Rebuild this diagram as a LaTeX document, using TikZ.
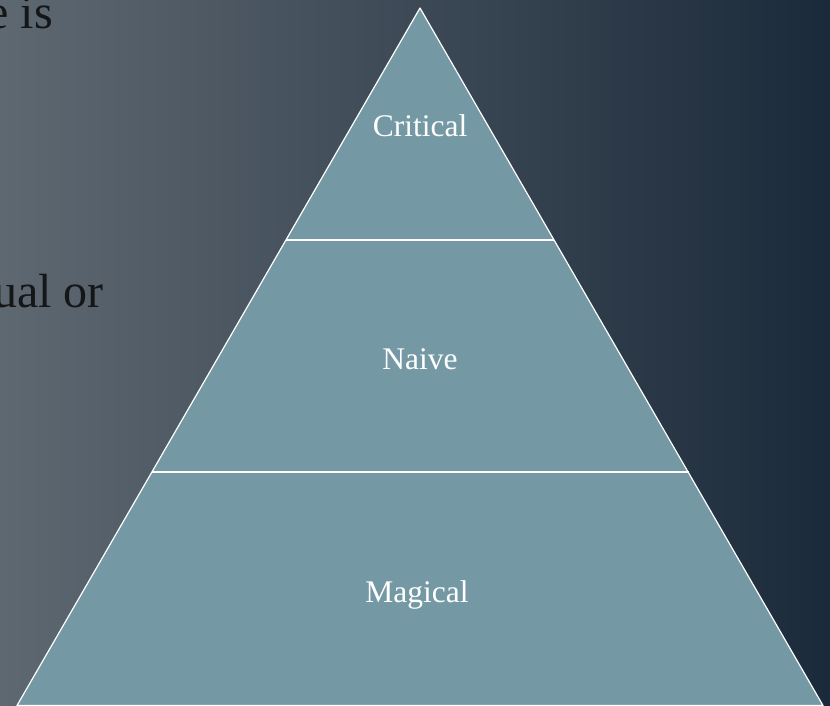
\documentclass[tikz,border=0pt]{standalone}
\usepackage{fontspec}
\setmainfont{Liberation Serif}
\definecolor{bgleft}{RGB}{94,104,113}
\definecolor{bgright}{RGB}{27,42,58}
\definecolor{pyrfill}{RGB}{117,153,164}
\definecolor{sideink}{RGB}{20,22,24}
\tikzset{
  pyrline/.style={draw=white, line width=1.2pt, line join=round},
  level/.style={text=white, font=\fontsize{31.5}{36}\selectfont, anchor=base, inner sep=0pt},
  sidetext/.style={text=sideink, font=\fontsize{48}{54}\selectfont, anchor=base east, inner sep=0pt}
}
\begin{document}
\begin{tikzpicture}[x=1pt,y=-1pt]
  \useasboundingbox (0,0) rectangle (830,706);
  \shade[left color=bgleft, right color=bgright] (0,0) rectangle (830,706);
  % side text (clipped at the left edge, as in the reference)
  \node[sidetext] (t1) at (53,29) {e is};
  \node[sidetext] (t2) at (104,307) {ual or};
  % pyramid
  \coordinate (apex) at (420,8);
  \coordinate (bl) at (17,705.5);
  \coordinate (br) at (823,705.5);
  \coordinate (l1) at (286,240);
  \coordinate (r1) at (554,240);
  \coordinate (l2) at (152,472);
  \coordinate (r2) at (689,472);
  \fill[pyrfill] (apex) -- (br) -- (bl) -- cycle;
  \draw[pyrline] (apex) -- (br) -- (bl) -- cycle;
  \draw[pyrline] (l1) -- (r1);
  \draw[pyrline] (l2) -- (r2);
  \node[level] (crit) at (420,136.5) {Critical};
  \node[level] (naive) at (420,369.5) {Naive};
  \node[level] (magic) at (417,602.5) {Magical};
\end{tikzpicture}
\end{document}
